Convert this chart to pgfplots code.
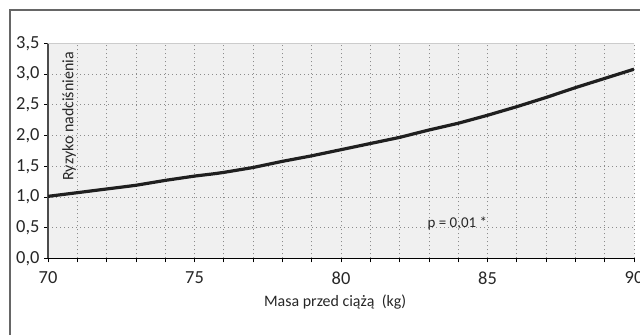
\documentclass[border=0pt]{standalone}
\usepackage{pgfplots}
\pgfplotsset{compat=1.18}
\usepackage{fontspec}
\setmainfont{Carlito}
\begin{document}
\begin{tikzpicture}[x=1bp,y=1bp]
\useasboundingbox (0,0) rectangle (640,335);
\draw[line width=2bp, color=black!60] (10,0) -- (10,325) -- (641,325);
\begin{axis}[
  at={(48bp,76.6bp)}, anchor=south west,
  scale only axis, width=586bp, height=215bp,
  xmin=70, xmax=90, ymin=0, ymax=3.5,
  xtick={70,75,80,85,90}, minor x tick num=4,
  ytick={0,0.5,...,3.5},
  axis lines*=left,
  axis line style={-},
  x axis line style={black, line width=1.2bp},
  y axis line style={black!70, line width=1.2bp},
  tick align=outside,
  major tick length=4bp, minor tick length=4bp,
  every tick/.style={black, line width=0.8bp},
  grid=both,
  major grid style={black!45, dash pattern=on 1bp off 3bp, line width=0.8bp},
  minor grid style={black!45, dash pattern=on 1bp off 3bp, line width=0.8bp},
  axis background/.style={fill=black!6},
  /pgf/number format/assume math mode=true,
  yticklabel style={/pgf/number format/use comma, /pgf/number format/fixed, /pgf/number format/fixed zerofill, /pgf/number format/precision=1, xshift=-1bp},
  ticklabel style={font=\fontsize{18.5}{21}\selectfont, text=black!85},
  xticklabel style={yshift=-6bp},
  xlabel={Masa przed ciążą \ (kg)},
  xlabel style={font=\fontsize{16}{19}\selectfont, text=black!85, at={(axis description cs:0.49,0)}, anchor=base, yshift=-48bp},
]
\addplot[line width=3.2bp, color=black!88] coordinates {
(70,1.01) (71,1.07) (72,1.13) (73,1.19) (74,1.27) (75,1.34) (75.7,1.38) (76,1.40)
(77,1.48) (78,1.58) (79,1.67) (80,1.77) (81,1.87) (82,1.97) (83,2.09) (84,2.20)
(85,2.33) (86,2.47) (87,2.62) (88,2.78) (89,2.93) (90,3.08)
};
\draw[black!20, line width=0.6bp] (rel axis cs:0,1) -- (rel axis cs:1,1) -- (rel axis cs:1,0);
\node[rotate=90, anchor=north east, inner sep=0pt, font=\fontsize{16}{19}\selectfont, text=black!85] at (rel axis cs:0.024,0.96) {Ryzyko nadciśnienia};
\node[anchor=west, inner sep=0pt, font=\fontsize{15}{17}\selectfont, text=black!85] at (axis cs:82.95,0.57) {p = 0,01 *};
\end{axis}
\end{tikzpicture}
\end{document}
